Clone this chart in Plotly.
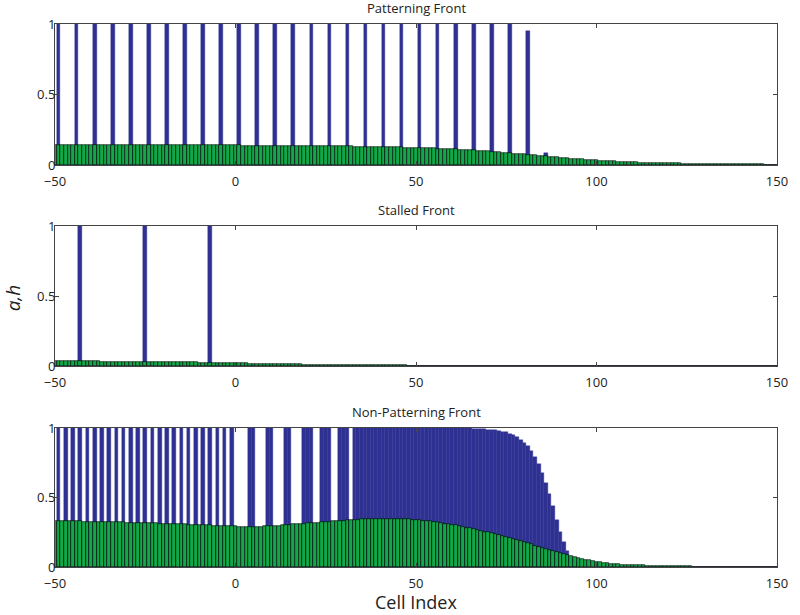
"""
Three stacked bar panels of a (blue) and h (green) per cell index.
"""

import plotly.graph_objects as go

cells = list(range(-50, 151))

# ---- Patterning front ----
top_a_cells = [-49, -44, -39, -34, -29, -24, -19, -14, -9, -4, 1, 6, 11, 16,
               21, 26, 31, 36, 41, 46, 51, 56, 61, 66, 71, 76, 81, 86]
top_a_heights = [1, 1, 1, 1, 1, 1, 1, 1, 1, 1, 1, 1, 1, 1,
                 1, 1, 1, 1, 1, 1, 1, 1, 1, 1, 1, 1, 0.95, 0.085]
top_h = [
    0.145, 0.145, 0.145, 0.145, 0.145, 0.145, 0.144, 0.144, 0.144, 0.144,
    0.144, 0.144, 0.144, 0.144, 0.144, 0.143, 0.143, 0.143, 0.143, 0.143,
    0.143, 0.143, 0.143, 0.142, 0.142, 0.142, 0.142, 0.142, 0.142, 0.142,
    0.142, 0.141, 0.141, 0.141, 0.141, 0.141, 0.141, 0.141, 0.140, 0.140,
    0.140, 0.140, 0.140, 0.140, 0.140, 0.140, 0.140, 0.140, 0.140, 0.140,
    0.140, 0.140, 0.139, 0.139, 0.139, 0.139, 0.139, 0.139, 0.139, 0.139,
    0.139, 0.139, 0.138, 0.138, 0.138, 0.138, 0.138, 0.138, 0.137, 0.137,
    0.137, 0.137, 0.136, 0.136, 0.136, 0.135, 0.135, 0.135, 0.134, 0.134,
    0.134, 0.133, 0.133, 0.132, 0.132, 0.131, 0.131, 0.130, 0.130, 0.129,
    0.129, 0.128, 0.128, 0.127, 0.127, 0.126, 0.126, 0.125, 0.125, 0.124,
    0.124, 0.123, 0.122, 0.121, 0.120, 0.119, 0.118, 0.117, 0.116, 0.115,
    0.114, 0.113, 0.111, 0.110, 0.108, 0.107, 0.105, 0.103, 0.101, 0.099,
    0.097, 0.095, 0.093, 0.091, 0.089, 0.087, 0.085, 0.082, 0.080, 0.078,
    0.076, 0.073, 0.071, 0.069, 0.066, 0.064, 0.062, 0.060, 0.057, 0.055,
    0.053, 0.051, 0.049, 0.047, 0.045, 0.043, 0.041, 0.039, 0.037, 0.035,
    0.034, 0.032, 0.031, 0.029, 0.028, 0.027, 0.025, 0.024, 0.023, 0.022,
    0.021, 0.020, 0.019, 0.018, 0.017, 0.017, 0.016, 0.015, 0.015, 0.014,
    0.013, 0.013, 0.012, 0.012, 0.011, 0.011, 0.010, 0.010, 0.009, 0.009,
    0.009, 0.008, 0.008, 0.008, 0.007, 0.007, 0.007, 0.007, 0.006, 0.006,
    0.006, 0.006, 0.005, 0.005, 0.005, 0.005, 0.005, 0.004, 0.004, 0.004,
    0.004,
]

# ---- Stalled front ----
mid_a_cells = [-43, -25, -7]
mid_a_heights = [1, 1, 1]
mid_h = [
    0.035, 0.035, 0.035, 0.034, 0.034, 0.034, 0.034, 0.034, 0.033, 0.033,
    0.033, 0.033, 0.033, 0.032, 0.032, 0.032, 0.032, 0.032, 0.031, 0.031,
    0.031, 0.031, 0.031, 0.030, 0.030, 0.030, 0.030, 0.029, 0.029, 0.029,
    0.029, 0.028, 0.028, 0.028, 0.027, 0.027, 0.027, 0.026, 0.026, 0.026,
    0.025, 0.025, 0.025, 0.024, 0.023, 0.023, 0.022, 0.022, 0.021, 0.021,
    0.020, 0.020, 0.019, 0.019, 0.018, 0.018, 0.017, 0.017, 0.016, 0.016,
    0.015, 0.015, 0.014, 0.014, 0.013, 0.013, 0.012, 0.012, 0.012, 0.011,
    0.011, 0.011, 0.010, 0.010, 0.010, 0.009, 0.009, 0.009, 0.009, 0.008,
    0.008, 0.008, 0.008, 0.007, 0.007, 0.007, 0.007, 0.006, 0.006, 0.006,
    0.006, 0.006, 0.005, 0.005, 0.005, 0.005, 0.005, 0.005, 0.004, 0.004,
    0.004, 0.004, 0.004, 0.004, 0.004, 0.003, 0.003, 0.003, 0.003, 0.003,
    0.003, 0.003, 0.003, 0.003, 0.003, 0.002, 0.002, 0.002, 0.002, 0.002,
    0.002, 0.002, 0.002, 0.002, 0.002, 0.002, 0.002, 0.002, 0.002, 0.002,
    0.002, 0.002, 0.002, 0.001, 0.001, 0.001, 0.001, 0.001, 0.001, 0.001,
    0.001, 0.001, 0.001, 0.001, 0.001, 0.001, 0.001, 0.001, 0.001, 0.001,
    0.001, 0.001, 0.001, 0.001, 0.001, 0.001, 0.001, 0.001, 0.001, 0.001,
    0.001, 0.001, 0.001, 0.001, 0.001, 0.001, 0.001, 0.001, 0.001, 0.001,
    0.001, 0.001, 0.001, 0.001, 0.001, 0.001, 0.001, 0.001, 0.001, 0.001,
    0.000, 0.000, 0.000, 0.000, 0.000, 0.000, 0.000, 0.000, 0.000, 0.000,
    0.000, 0.000, 0.000, 0.000, 0.000, 0.000, 0.000, 0.000, 0.000, 0.000,
    0.000,
]

# ---- Non-patterning front ----
bot_a = [
    0, 1, 0, 1, 0, 1, 0, 1, 0, 1,
    0, 1, 0, 1, 0, 1, 0, 1, 0, 1,
    0, 1, 0, 1, 0, 1, 0, 1, 0, 1,
    0, 1, 0, 1, 0, 1, 0, 1, 0, 1,
    0, 1, 0, 1, 0, 1, 0, 1, 0, 1,
    0, 0, 0, 0, 1, 1, 0, 0, 0, 1,
    1, 0, 0, 0, 1, 1, 0, 0, 0, 1,
    1, 1, 0, 0, 1, 1, 1, 0, 0, 1,
    1, 1, 0, 1, 1, 1, 1, 1, 1, 1,
    1, 1, 1, 1, 1, 1, 1, 1, 1, 1,
    1, 1, 1, 1, 1, 1, 1, 1, 1, 1,
    1, 1, 1, 0.999, 0.998, 0.997, 0.996, 0.995, 0.993, 0.991,
    0.989, 0.986, 0.983, 0.979, 0.974, 0.968, 0.960, 0.948, 0.932, 0.913,
    0.893, 0.868, 0.836, 0.794, 0.741, 0.677, 0.603, 0.522, 0.436, 0.340,
    0.255, 0.180, 0.115, 0.068, 0.035, 0, 0, 0, 0, 0,
    0, 0, 0, 0, 0, 0, 0, 0, 0, 0,
    0, 0, 0, 0, 0, 0, 0, 0, 0, 0,
    0, 0, 0, 0, 0, 0, 0, 0, 0, 0,
    0, 0, 0, 0, 0, 0, 0, 0, 0, 0,
    0, 0, 0, 0, 0, 0, 0, 0, 0, 0,
    0,
]
bot_h = [
    0.330, 0.330, 0.330, 0.329, 0.329, 0.329, 0.328, 0.328, 0.327, 0.327,
    0.326, 0.326, 0.325, 0.325, 0.324, 0.323, 0.323, 0.322, 0.322, 0.321,
    0.320, 0.320, 0.319, 0.318, 0.317, 0.317, 0.316, 0.315, 0.314, 0.313,
    0.312, 0.311, 0.310, 0.309, 0.308, 0.307, 0.306, 0.305, 0.304, 0.303,
    0.302, 0.301, 0.300, 0.299, 0.298, 0.297, 0.296, 0.295, 0.294, 0.293,
    0.292, 0.291, 0.291, 0.290, 0.290, 0.290, 0.290, 0.291, 0.292, 0.293,
    0.294, 0.296, 0.298, 0.300, 0.302, 0.304, 0.306, 0.308, 0.310, 0.312,
    0.314, 0.316, 0.318, 0.320, 0.322, 0.324, 0.326, 0.328, 0.330, 0.332,
    0.334, 0.336, 0.338, 0.339, 0.341, 0.342, 0.344, 0.345, 0.346, 0.347,
    0.347, 0.348, 0.348, 0.348, 0.347, 0.347, 0.346, 0.345, 0.343, 0.341,
    0.339, 0.337, 0.334, 0.331, 0.328, 0.324, 0.321, 0.317, 0.313, 0.308,
    0.304, 0.299, 0.294, 0.289, 0.284, 0.278, 0.273, 0.267, 0.261, 0.255,
    0.249, 0.242, 0.236, 0.229, 0.222, 0.215, 0.208, 0.201, 0.194, 0.186,
    0.178, 0.170, 0.162, 0.154, 0.146, 0.138, 0.130, 0.122, 0.114, 0.107,
    0.100, 0.093, 0.086, 0.079, 0.072, 0.066, 0.060, 0.054, 0.049, 0.044,
    0.039, 0.035, 0.031, 0.028, 0.025, 0.022, 0.020, 0.018, 0.016, 0.015,
    0.014, 0.013, 0.012, 0.011, 0.010, 0.009, 0.008, 0.008, 0.007, 0.006,
    0.006, 0.005, 0.005, 0.005, 0.004, 0.004, 0.004, 0.003, 0.003, 0.003,
    0.003, 0.003, 0.002, 0.002, 0.002, 0.002, 0.002, 0.002, 0.002, 0.001,
    0.001, 0.001, 0.001, 0.001, 0.001, 0.001, 0.001, 0.001, 0.001, 0.001,
    0.001,
]

titles = ['Patterning Front', 'Stalled Front', 'Non-Patterning Front']
x_ticks = [-50, 0, 50, 100, 150]
y_ticks = [0, 0.5, 1]
y_tick_text = ['0', '0.5', '1']

BLUE = '#2e3192'
GREEN = '#12a84a'
FONT = 'Open Sans'


def spikes_to_series(spike_cells, spike_heights):
    """Place sparse spike heights onto the full cell grid."""
    lookup = dict(zip(spike_cells, spike_heights))
    return [lookup.get(c, 0) for c in cells]


panels = [
    (spikes_to_series(top_a_cells, top_a_heights), top_h),
    (spikes_to_series(mid_a_cells, mid_a_heights), mid_h),
    (bot_a, bot_h),
]
domains = [[0.740, 1.0], [0.370, 0.628], [0.0, 0.256]]

fig = go.Figure()
for i, (a_vals, h_vals) in enumerate(panels):
    suffix = '' if i == 0 else str(i + 1)
    fig.add_trace(go.Bar(x=cells, y=a_vals, width=1,
                         marker=dict(color=BLUE, line=dict(color=BLUE, width=0.4)),
                         xaxis='x' + suffix, yaxis='y' + suffix, showlegend=False))
    fig.add_trace(go.Bar(x=cells, y=h_vals, width=1,
                         marker=dict(color=GREEN, line=dict(color='black', width=0.6)),
                         xaxis='x' + suffix, yaxis='y' + suffix, showlegend=False))

axis_style = dict(showline=True, linecolor='#444444', linewidth=1, mirror='ticks',
                  ticks='inside', ticklen=4, tickcolor='#444444', showgrid=False,
                  zeroline=False, tickfont=dict(family=FONT, size=13, color='#222222'))

layout = dict(
    width=800, height=615,
    margin=dict(l=55, r=13, t=24, b=48),
    paper_bgcolor='white', plot_bgcolor='white',
    barmode='overlay', bargap=0,
    annotations=[],
)
for i, dom in enumerate(domains):
    suffix = '' if i == 0 else str(i + 1)
    layout['xaxis' + suffix] = dict(axis_style, range=[-50, 150], tickvals=x_ticks,
                                    anchor='y' + suffix, domain=[0, 1],
                                    ticklabelstandoff=4)
    layout['yaxis' + suffix] = dict(axis_style, range=[0, 1], tickvals=y_ticks,
                                    ticktext=y_tick_text, anchor='x' + suffix, domain=dom,
                                    ticklabelstandoff=-4)
    layout['annotations'].append(dict(
        text=titles[i], xref='paper', yref='paper', x=0.5, y=dom[1],
        xanchor='center', yanchor='bottom', yshift=5, showarrow=False,
        font=dict(family=FONT, size=13, color='#222222')))

layout['annotations'].append(dict(
    text='Cell Index', xref='paper', yref='paper', x=0.5, y=0,
    xanchor='center', yanchor='top', yshift=-21, showarrow=False,
    font=dict(family=FONT, size=18, color='#222222')))
layout['annotations'].append(dict(
    text='<i>a,h</i>', xref='paper', yref='paper', x=0, y=0.495,
    xanchor='center', yanchor='middle', xshift=-42, textangle=-90, showarrow=False,
    font=dict(family=FONT, size=19, color='#222222')))

fig.update_layout(layout)
# drop the browser's default 8px body margin so the figure sits at the page corner
fig.write_html("out.html", config={'displayModeBar': False},
               post_script="document.body.style.margin = '0px';")
